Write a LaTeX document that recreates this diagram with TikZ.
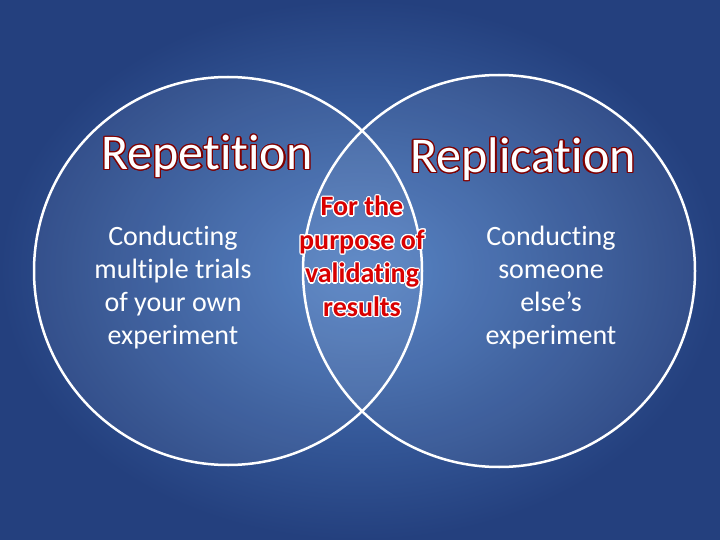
\documentclass[tikz,border=0pt]{standalone}
\usepackage{fontspec}
\setmainfont[Ligatures={NoCommon}]{Carlito}
\usepackage[copies]{contour}
\contourlength{1.2pt}
\begin{document}
\begin{tikzpicture}[x=1pt,y=-1pt,
  body/.style={text=white,align=center,font=\fontsize{28}{33}\selectfont},
  ring/.style={draw=white,line width=2.5pt,fill=white,fill opacity=0.06}]
\useasboundingbox (0,0) rectangle (720,540);
\definecolor{bgin}{HTML}{4F7EC2}
\definecolor{bgout}{HTML}{24407E}
\shade[inner color=bgin,outer color=bgout] (0,0) rectangle (720,540);
\path[ring] (228,271) circle (194);
\path[ring] (499,271) circle (196);
\node (t1) at (207,157) {\fontsize{50}{56}\selectfont\contourlength{1.3pt}\contour{red!50!black}{\textcolor{white}{Repetition}}};
\node (t2) at (523,160) {\fontsize{50}{56}\selectfont\contourlength{1.3pt}\contour{red!50!black}{\textcolor{white}{Replication}}};
\node[body] (l) at (173,288) {Conducting\\multiple trials\\of your own\\experiment};
\node[body] (r) at (551,288) {Conducting\\someone\\else’s\\experiment};
\node[align=center,font=\fontsize{28}{33.5}\selectfont\bfseries] (m) at (362,257)
 {\contour{white}{\textcolor{red!85!black}{For the}}\\\contour{white}{\textcolor{red!85!black}{purpose of}}\\\contour{white}{\textcolor{red!85!black}{validating}}\\\contour{white}{\textcolor{red!85!black}{results}}};
\end{tikzpicture}
\end{document}
